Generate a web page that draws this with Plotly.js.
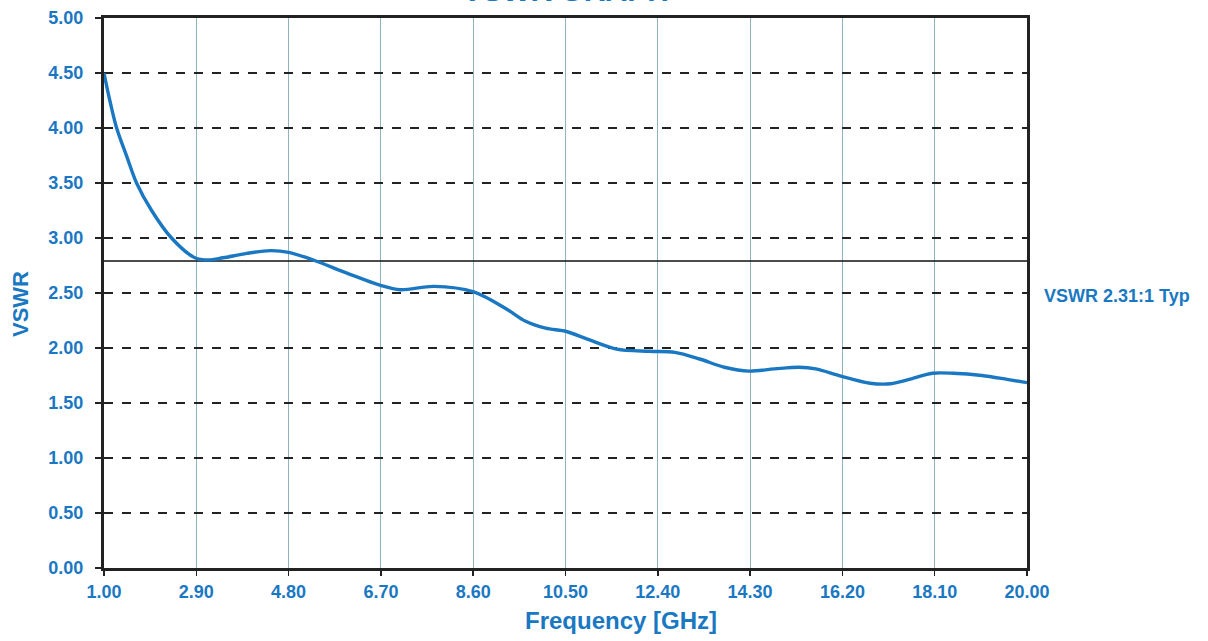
<!DOCTYPE html>
<html>
<head>
<meta charset="utf-8">
<script src="https://cdn.plot.ly/plotly-3.0.1.min.js"></script>
<style>html,body{margin:0;padding:0;background:#fff;}#chart{width:1208px;height:641px;}</style>
</head>
<body>
<div id="chart"></div>
<script>
// Frequency (GHz) and VSWR
const freq = [1.00, 1.12, 1.26, 1.47, 1.67, 1.98, 2.39, 2.87, 3.15, 3.45, 3.94, 4.42, 4.80, 5.31, 6.00, 6.69, 7.10, 7.79, 8.61, 9.30, 9.67, 10.09, 10.52, 10.95, 11.55, 12.23, 12.75, 13.26, 13.77, 14.28, 14.80, 15.31, 15.65, 16.17, 16.77, 17.19, 17.62, 18.05, 18.48, 19.07, 19.59, 20.00];
const vswr = [4.50, 4.25, 4.00, 3.74, 3.50, 3.25, 3.00, 2.82, 2.80, 2.82, 2.86, 2.885, 2.87, 2.80, 2.68, 2.57, 2.53, 2.56, 2.51, 2.35, 2.245, 2.18, 2.15, 2.08, 1.99, 1.97, 1.96, 1.90, 1.825, 1.79, 1.81, 1.825, 1.81, 1.745, 1.68, 1.675, 1.72, 1.77, 1.77, 1.75, 1.715, 1.685];
const xTicks = [1.00, 2.90, 4.80, 6.70, 8.60, 10.50, 12.40, 14.30, 16.20, 18.10, 20.00];
const yTicks = [0, 0.5, 1, 1.5, 2, 2.5, 3, 3.5, 4, 4.5, 5];
const typLevel = 2.79;
const typLabel = "VSWR 2.31:1 Typ";

const blue = "#1a78c2";
const font = "Liberation Sans, Arial, sans-serif";

const traces = [
  {x: [freq[0], freq[freq.length-1]], y: [typLevel, typLevel], mode: "lines",
   line: {color: "#111", width: 1.5}, hoverinfo: "skip", showlegend: false},
  {x: freq, y: vswr, mode: "lines", line: {color: blue, width: 3.4, shape: "spline", smoothing: 0.9},
   showlegend: false}
];

const layout = {
  width: 1208, height: 641,
  paper_bgcolor: "#fff", plot_bgcolor: "#fff",
  margin: {l: 104, r: 181, t: 18, b: 73},
  font: {family: font, color: blue},
  title: {text: "<b>VSWR GRAPH</b>", x: 0.5, xref: "paper", y: 0.999, yref: "container", yanchor: "bottom",
          font: {size: 30, color: blue, family: font}},
  xaxis: {
    range: [1, 20], tickvals: xTicks, ticktext: xTicks.map(v => "<b>" + v.toFixed(2) + "</b>"),
    showgrid: true, gridcolor: "#8fb3bf", gridwidth: 1,
    showline: true, linecolor: "#222", linewidth: 3, mirror: true,
    ticks: "outside", ticklen: 5, tickcolor: "#222", tickwidth: 1.5,
    tickfont: {size: 18, color: blue, family: font}, zeroline: false
  },
  yaxis: {
    range: [0, 5], tickvals: yTicks, ticktext: yTicks.map(v => "<b>" + v.toFixed(2) + "</b>"),
    showgrid: true, gridcolor: "#222", gridwidth: 1.5, griddash: "dash",
    showline: true, linecolor: "#222", linewidth: 3, mirror: true,
    ticks: "outside", ticklen: 6, tickcolor: "#222", tickwidth: 1.5, ticklabelstandoff: 8,
    tickfont: {size: 18, color: blue, family: font}, zeroline: false
  },
  annotations: [
    {text: "<b>" + typLabel + "</b>", xref: "paper", x: 1.016, xanchor: "left",
     yref: "y", y: 2.47, yanchor: "middle", showarrow: false,
     font: {size: 18, color: blue, family: font}},
    {text: "<b>Frequency [GHz]</b>", xref: "paper", x: 0.56, xanchor: "center",
     yref: "paper", y: -0.095, yanchor: "middle", showarrow: false,
     font: {size: 24, color: blue, family: font}},
    {text: "<b>VSWR</b>", xref: "paper", x: -0.091, xanchor: "center", textangle: -90,
     yref: "paper", y: 0.48, yanchor: "middle", showarrow: false,
     font: {size: 22, color: blue, family: font}}
  ]
};

Plotly.newPlot("chart", traces, layout, {displayModeBar: false, staticPlot: true});
</script>
</body>
</html>
